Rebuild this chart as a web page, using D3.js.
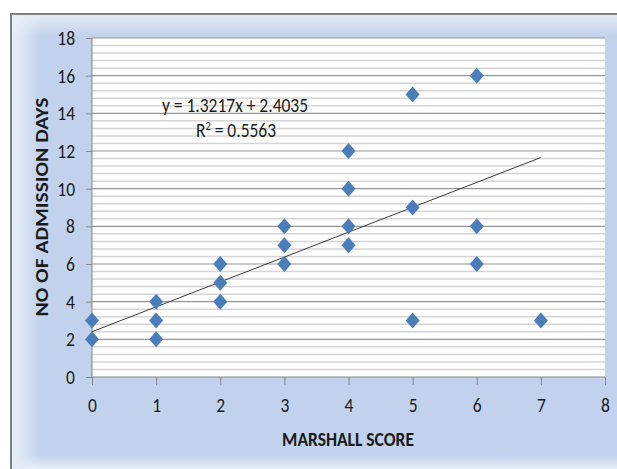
<!DOCTYPE html>
<html>
<head>
<meta charset="utf-8">
<script src="https://cdn.jsdelivr.net/npm/d3@7"></script>
<style>
  body { margin: 0; background: #fff; }
  text { font-family: 'Carlito', 'Liberation Sans Narrow', 'Arial Narrow', sans-serif; fill: #1a1a1a; }
</style>
</head>
<body>
<div class="chart"></div>
<script>
// data
var marshallScore = [0, 0, 1, 1, 1, 2, 2, 2, 3, 3, 3, 4, 4, 4, 4, 5, 5, 5, 6, 6, 6, 7];
var admissionDays = [3, 2, 4, 3, 2, 6, 5, 4, 8, 7, 6, 12, 10, 8, 7, 15, 9, 3, 16, 8, 6, 3];
var xTicks = [0, 1, 2, 3, 4, 5, 6, 7, 8];
var yTicks = [0, 2, 4, 6, 8, 10, 12, 14, 16, 18];
var trendSlope = 1.3217, trendIntercept = 2.4035, trendR2 = 0.5563;
var trendRange = [0, 7];

var W = 617, H = 469,
  plot = { left: 92, right: 605, top: 38, bottom: 377 },
  squeeze = 0.875; // the source picture is narrowed horizontally

var svg = d3.select('.chart')
  .append('svg')
    .attr('width', W)
    .attr('height', H);

var defs = svg.append('defs');

// soft edges of the chart frame
function grad(id, x2, y2, stops) {
  var g = defs.append('linearGradient')
    .attr('id', id)
    .attr('x1', 0).attr('y1', 0)
    .attr('x2', x2).attr('y2', y2);
  stops.forEach(s => g.append('stop').attr('offset', s[0]).attr('stop-color', s[1]).attr('stop-opacity', s[2]));
}
grad('gTop', 0, 1, [[0, '#e6edf7', 1], [1, '#e6edf7', 0]]);
grad('gLeft', 1, 0, [[0, '#eaf0f8', 1], [1, '#eaf0f8', 0]]);
grad('gBottom', 0, 1, [[0, '#e6edf7', 0], [1, '#e6edf7', 1]]);

svg.append('rect')
  .attr('x', 11).attr('y', 14)
  .attr('width', W - 11).attr('height', H - 14)
  .attr('fill', '#c2d2ec');
svg.append('rect')
  .attr('x', 11).attr('y', 14)
  .attr('width', W - 11).attr('height', 22)
  .attr('fill', 'url(#gTop)');
svg.append('rect')
  .attr('x', 11).attr('y', 14)
  .attr('width', 30).attr('height', H - 14)
  .attr('fill', 'url(#gLeft)');
svg.append('rect')
  .attr('x', 11).attr('y', H - 14)
  .attr('width', W - 11).attr('height', 14)
  .attr('fill', 'url(#gBottom)');

// frame border
svg.append('path')
  .attr('d', `M${W},14H11V${H}`)
  .attr('fill', 'none')
  .attr('stroke', '#7f7f7f')
  .attr('stroke-width', 2);

var xScale = d3.scaleLinear()
  .domain([0, 8])
  .range([plot.left, plot.right]);

var yScale = d3.scaleLinear()
  .domain([0, 18])
  .range([plot.bottom, plot.top]);

// plot area
svg.append('rect')
  .attr('x', plot.left).attr('y', plot.top)
  .attr('width', plot.right - plot.left)
  .attr('height', plot.bottom - plot.top)
  .attr('fill', '#fff');

// minor gridlines every 0.4, major every 2
var minor = d3.range(0, 18.001, 0.4).filter(v => Math.abs(v / 2 - Math.round(v / 2)) > 0.01);
svg.append('g')
  .selectAll('line')
  .data(minor)
  .enter()
  .append('line')
    .attr('x1', plot.left).attr('x2', plot.right)
    .attr('y1', d => yScale(d)).attr('y2', d => yScale(d))
    .attr('stroke', '#d4d4d4')
    .attr('stroke-width', 1.5);

svg.append('g')
  .selectAll('line')
  .data(yTicks.slice(1))
  .enter()
  .append('line')
    .attr('x1', plot.left).attr('x2', plot.right)
    .attr('y1', d => yScale(d)).attr('y2', d => yScale(d))
    .attr('stroke', '#969696')
    .attr('stroke-width', 1.2);

// narrow a text element horizontally around its anchor point
function narrow(sel) {
  sel.each(function() {
    var t = d3.select(this),
      x = +t.attr('x') || 0,
      y = +t.attr('y') || 0,
      pre = t.attr('transform') || '';
    t.attr('x', 0).attr('y', 0)
      .attr('transform', `${pre} translate(${x}, ${y}) scale(${squeeze}, 1)`);
  });
}

// axes
var yAxis = d3.axisLeft(yScale)
  .tickValues(yTicks)
  .tickSize(6)
  .tickPadding(11);

var gY = svg.append('g')
  .attr('transform', `translate(${plot.left}, 0)`)
  .call(yAxis);

var xAxis = d3.axisBottom(xScale)
  .tickValues(xTicks)
  .tickSize(8)
  .tickPadding(13);

var gX = svg.append('g')
  .attr('transform', `translate(0, ${plot.bottom})`)
  .call(xAxis);

[gX, gY].forEach(g => {
  g.selectAll('path, line').attr('stroke', '#868686');
  g.selectAll('text')
    .attr('fill', '#1a1a1a')
    .style('font-size', '20px')
    .style('font-family', "'Carlito', 'Liberation Sans Narrow', 'Arial Narrow', sans-serif")
    .call(narrow);
});
gX.select('.domain').attr('d', `M${plot.left},0H${plot.right}`);
gY.select('.domain').attr('d', `M0,${plot.bottom}V${plot.top}`);

// trendline
svg.append('line')
  .attr('x1', xScale(trendRange[0]))
  .attr('y1', yScale(trendSlope * trendRange[0] + trendIntercept))
  .attr('x2', xScale(trendRange[1]))
  .attr('y2', yScale(trendSlope * trendRange[1] + trendIntercept))
  .attr('stroke', '#3a3a3a')
  .attr('stroke-width', 1);

// diamond markers
var diamond = {
  draw: function(ctx, size) {
    var w = 7, h = 8;
    ctx.moveTo(0, -h);
    ctx.lineTo(w, 0);
    ctx.lineTo(0, h);
    ctx.lineTo(-w, 0);
    ctx.closePath();
  }
};

svg.append('g')
  .selectAll('path')
  .data(marshallScore.map((x, i) => ({ x: x, y: admissionDays[i] })))
  .enter()
  .append('path')
    .attr('d', d3.symbol(diamond))
    .attr('transform', d => `translate(${xScale(d.x)}, ${yScale(d.y)})`)
    .attr('fill', '#4a7ebb');

// equation label
svg.append('text')
  .attr('x', 235)
  .attr('y', 112)
  .attr('text-anchor', 'middle')
  .style('font-size', '20px')
  .text(`y = ${trendSlope}x + ${trendIntercept}`)
  .call(narrow);

var r2 = svg.append('text')
  .attr('x', 236)
  .attr('y', 137)
  .attr('text-anchor', 'middle')
  .style('font-size', '20px');
r2.append('tspan').text('R');
r2.append('tspan').attr('dy', -7).style('font-size', '12px').text('2');
r2.append('tspan').attr('dy', 7).text(` = ${trendR2}`);
r2.call(narrow);

// axis titles
svg.append('text')
  .attr('x', 348)
  .attr('y', 446)
  .attr('text-anchor', 'middle')
  .style('font-size', '20px')
  .style('font-weight', 'bold')
  .text('MARSHALL SCORE')
  .call(narrow);

svg.append('text')
  .attr('transform', 'translate(48, 207) rotate(-90)')
  .attr('text-anchor', 'middle')
  .style('font-size', '17px')
  .style('font-weight', 'bold')
  .attr('textLength', 219)
  .attr('lengthAdjust', 'spacingAndGlyphs')
  .text('NO OF ADMISSION DAYS');
</script>
</body>
</html>
